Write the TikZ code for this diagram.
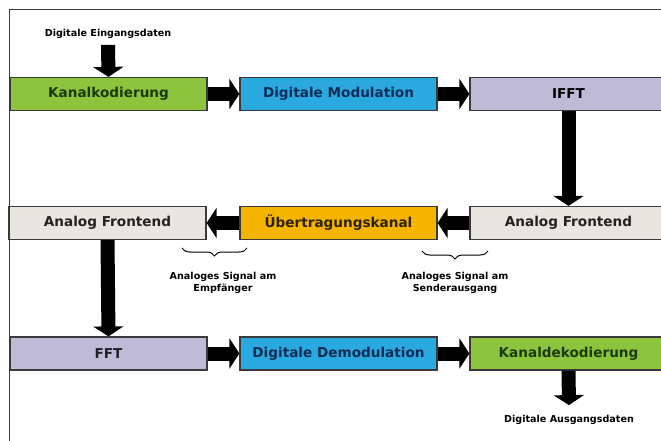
\documentclass[tikz,border=0pt]{standalone}
\usepackage{fontspec}
\setmainfont{DejaVu Sans}
\usetikzlibrary{arrows.meta,decorations.pathreplacing}
\definecolor{cgreen}{HTML}{8CC43E}
\definecolor{tgreen}{HTML}{1B3A0B}
\definecolor{cblue}{HTML}{2AA9E0}
\definecolor{tblue}{HTML}{0E2C55}
\definecolor{clav}{HTML}{BFBBD6}
\definecolor{cgray}{HTML}{E9E6E1}
\definecolor{corange}{HTML}{F5B400}
\definecolor{torange}{HTML}{2F2200}
\definecolor{boxline}{HTML}{3A3A3A}
\definecolor{tdark}{HTML}{222222}
\begin{document}
\begin{tikzpicture}[x=1pt,y=-1pt,
  box/.style={draw=boxline, line width=1.2pt, minimum width=197pt, minimum height=33pt, inner sep=0pt,
    font=\bfseries\fontsize{13.6}{15}\selectfont, anchor=center},
  bigarrow/.style={line width=14pt, -{Triangle[length=10pt,width=30pt]}},
  lbl/.style={font=\bfseries\fontsize{9.6}{11.5}\selectfont, align=center, inner sep=2pt},
  bracestyle/.style={decorate, decoration={brace, mirror, amplitude=8pt}, line width=1pt}]
\useasboundingbox (0,0) rectangle (661,441);
\clip (0,0) rectangle (661,441);
\fill[white] (0,0) rectangle (661,441);
\draw[line width=1.2pt, draw=boxline] (9.5,9.5) rectangle (720,500);
% row 1
\node[box, fill=cgreen, text=tgreen] (kk) at (108.5,94) {Kanalkodierung};
\node[box, fill=cblue, text=tblue] (dm) at (338.5,94) {Digitale Modulation};
\node[box, fill=clav, text=black] (ifft) at (568.5,94) {IFFT};
% row 2
\node[box, fill=cgray, text=tdark] (afl) at (107.5,223) {Analog Frontend};
\node[box, fill=corange, text=torange] (uk) at (338.5,223) {Übertragungskanal};
\node[box, fill=cgray, text=tdark] (afr) at (568.5,223) {Analog Frontend};
% row 3
\node[box, fill=clav, text=tdark] (fft) at (108.5,353.5) {FFT};
\node[box, fill=cblue, text=tblue] (ddm) at (338.5,353.5) {Digitale Demodulation};
\node[box, fill=cgreen, text=tgreen] (kd) at (568.5,353.5) {Kanaldekodierung};
% labels
\node[lbl] (ein) at (108,34) {Digitale Eingangsdaten};
\node[lbl] (aus) at (569,420) {Digitale Ausgangsdaten};
\node[lbl] (sig1) at (223,283) {Analoges Signal am\\Empfänger};
\node[lbl] (sig2) at (455,283) {Analoges Signal am\\Senderausgang};
% arrows
\draw[bigarrow] ([yshift=-4pt]ein.south) -- (kk.north);
\draw[bigarrow] (kk.east) -- (dm.west);
\draw[bigarrow] (dm.east) -- (ifft.west);
\draw[bigarrow] (ifft.south) -- (afr.north);
\draw[bigarrow] (afr.west) -- (uk.east);
\draw[bigarrow] (uk.west) -- (afl.east);
\draw[bigarrow] (afl.south) -- (fft.north);
\draw[bigarrow] (fft.east) -- (ddm.west);
\draw[bigarrow] (ddm.east) -- (kd.west);
\draw[bigarrow] (kd.south) -- ([yshift=8pt]aus.north);
% braces
\draw[bracestyle] (182,248) -- (247,248);
\draw[bracestyle] (422,251) -- (488,251);
\end{tikzpicture}
\end{document}
